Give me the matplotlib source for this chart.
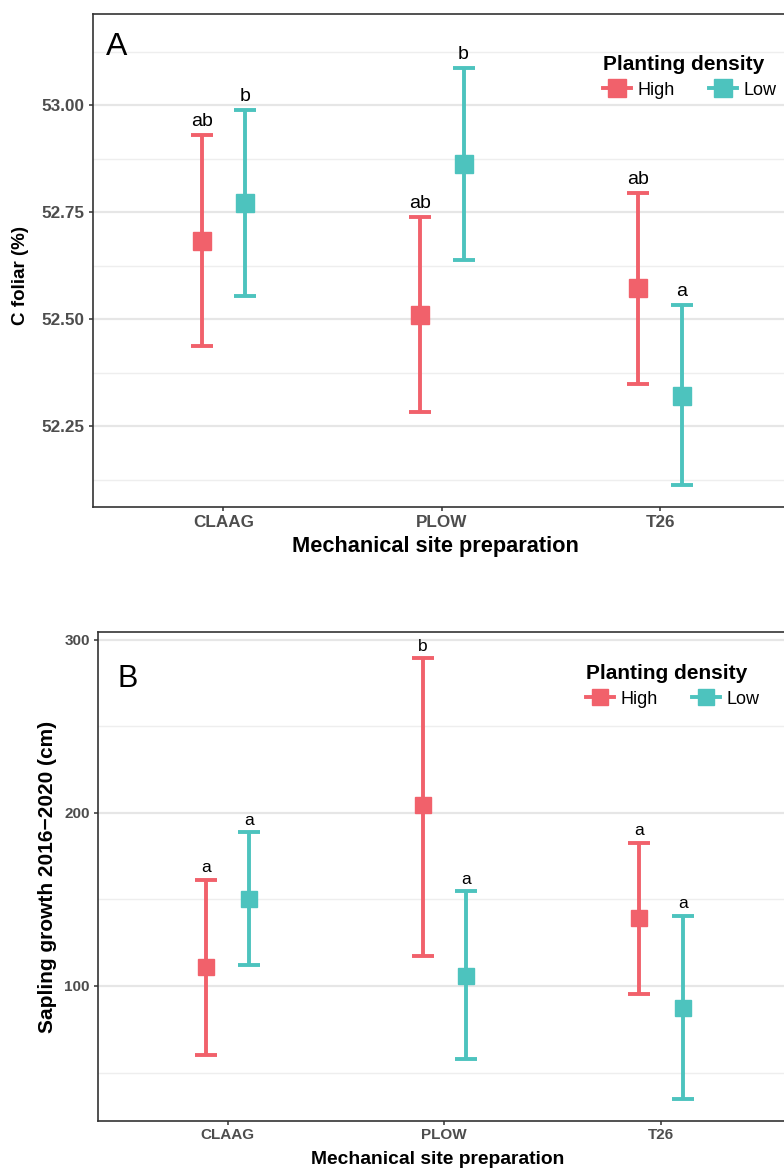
import numpy as np
import matplotlib
matplotlib.use("Agg")
import matplotlib.pyplot as plt
from matplotlib.lines import Line2D
from matplotlib.ticker import MultipleLocator, FormatStrFormatter

plt.rcParams["font.family"] = ["Liberation Sans", "DejaVu Sans"]

sites = ["CLAAG", "PLOW", "T26"]
densities = ["High", "Low"]
colors = ["#F1616B", "#4DC3BE"]

# panel A - C foliar (%)
c_mean_high = [52.683, 52.509, 52.572]
c_lo_high = [52.437, 52.283, 52.348]
c_up_high = [52.930, 52.738, 52.795]
c_mean_low = [52.770, 52.862, 52.321]
c_lo_low = [52.554, 52.638, 52.112]
c_up_low = [52.988, 53.087, 52.533]
c_letters_high = ["ab", "ab", "ab"]
c_letters_low = ["b", "b", "a"]

# panel B - sapling growth 2016-2020 (cm)
g_mean_high = [111.1, 204.6, 139.3]
g_lo_high = [60.2, 117.5, 95.4]
g_up_high = [161.3, 289.1, 182.7]
g_mean_low = [150.0, 106.0, 87.3]
g_lo_low = [112.3, 57.8, 34.8]
g_up_low = [188.8, 154.6, 140.4]
g_letters_high = ["a", "b", "a"]
g_letters_low = ["a", "a", "a"]

W, H = 784, 1171
fig = plt.figure(figsize=(W / 100, H / 100), dpi=100)
fig.patch.set_facecolor("white")


def px_axes(left, top, right, bottom):
    return fig.add_axes([left / W, 1 - bottom / H, (right - left) / W, (bottom - top) / H])


def draw_panel(ax, means, los, ups, letters, ms, cap, txt_size, txt_off):
    x = np.arange(len(sites))
    for i, dens in enumerate(densities):
        xs = x + (-0.1 if i == 0 else 0.1)
        m = np.array(means[i])
        lo = np.array(los[i])
        up = np.array(ups[i])
        ax.errorbar(xs, m, yerr=[m - lo, up - m], fmt="s", color=colors[i],
                    ms=ms, lw=2.8, capsize=cap, capthick=2.8, zorder=3)
        for xi, u, t in zip(xs, up, letters[i]):
            ax.annotate(t, (xi, u), xytext=(0, txt_off), textcoords="offset points",
                        ha="center", va="baseline", fontsize=txt_size, color="black")
    ax.set_xlim(-0.6, 2.6)
    ax.set_xticks(x)
    ax.set_xticklabels(sites)
    ax.set_axisbelow(True)
    ax.yaxis.grid(True, which="major", color="#E6E6E6", lw=1.6)
    ax.yaxis.grid(True, which="minor", color="#EEEEEE", lw=1.0)
    ax.xaxis.grid(False)
    for s in ax.spines.values():
        s.set_color("#333333")
        s.set_linewidth(1.2)


def style_ticks(ax, size):
    ax.tick_params(axis="both", which="major", direction="out", length=3, width=1.1,
                   color="#333333", labelcolor="#4D4D4D", labelsize=size, pad=2.5)
    ax.tick_params(axis="y", which="minor", length=0)
    for lbl in ax.get_xticklabels() + ax.get_yticklabels():
        lbl.set_fontweight("bold")


def add_legend(ax, x, y, label_size, title_size, ms):
    handles = [Line2D([0], [0], color=c, lw=2.8, marker="s", ms=ms) for c in colors]
    leg = ax.legend(handles, densities, title="Planting density", ncol=2,
                    loc="upper left", bbox_to_anchor=(x / W, 1 - y / H),
                    bbox_transform=fig.transFigure, frameon=False, borderpad=0,
                    borderaxespad=0, fontsize=label_size, handlelength=1.55,
                    handletextpad=0.35, columnspacing=1.9, labelspacing=0.42,
                    alignment="left",
                    title_fontproperties={"weight": "bold", "size": title_size})
    return leg


# ---- panel A
axA = px_axes(92.5, 14, 791, 507)
draw_panel(axA, [c_mean_high, c_mean_low], [c_lo_high, c_lo_low],
           [c_up_high, c_up_low], [c_letters_high, c_letters_low],
           ms=13.5, cap=7.8, txt_size=14, txt_off=6.5)
axA.set_ylim(52.061, 53.2126)
axA.yaxis.set_major_locator(MultipleLocator(0.25))
axA.yaxis.set_minor_locator(MultipleLocator(0.125))
axA.yaxis.set_major_formatter(FormatStrFormatter("%.2f"))
style_ticks(axA, 12.3)
axA.set_xlabel("Mechanical site preparation", fontsize=15.7, fontweight="bold")
axA.set_ylabel("C foliar (%)", fontsize=13.5, fontweight="bold")
axA.xaxis.set_label_coords((435 - 92.5) / 698.5, -(536 - 507) / 493)
axA.yaxis.set_label_coords((29 - 92.5) / 698.5, 0.47)
fig.text(106 / W, 1 - 55 / H, "A", fontsize=23, va="baseline", ha="left")
add_legend(axA, 603, 55, 13, 15, 13.5)

# ---- panel B
axB = px_axes(97.5, 632.3, 791, 1120.7)
draw_panel(axB, [g_mean_high, g_mean_low], [g_lo_high, g_lo_low],
           [g_up_high, g_up_low], [g_letters_high, g_letters_low],
           ms=12, cap=7.8, txt_size=12.5, txt_off=5.5)
axB.set_ylim(22.2, 304.2)
axB.yaxis.set_major_locator(MultipleLocator(100))
axB.yaxis.set_minor_locator(MultipleLocator(50))
style_ticks(axB, 11)
axB.set_xlabel("Mechanical site preparation", fontsize=13.9, fontweight="bold")
axB.set_ylabel("Sapling growth 2016\u22122020 (cm)", fontsize=15, fontweight="bold")
axB.xaxis.set_label_coords((438 - 97.5) / 693.5, -(1151 - 1120.7) / 488.4)
axB.yaxis.set_label_coords((57 - 97.5) / 693.5, 0.5)
fig.text(117 / W, 1 - 687 / H, "B", fontsize=22, va="baseline", ha="left")
add_legend(axB, 586, 664, 13, 15, 12)

fig.savefig("out.png", dpi=100)
